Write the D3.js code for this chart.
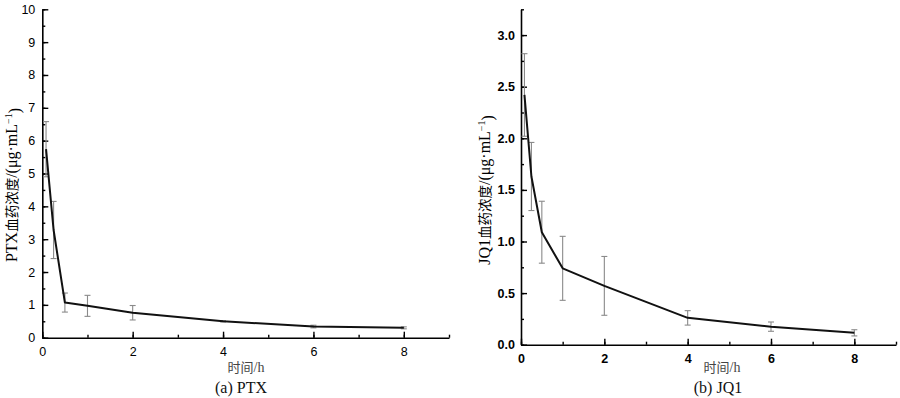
<!DOCTYPE html>
<html>
<head>
<meta charset="utf-8">
<script src="https://cdn.jsdelivr.net/npm/d3@7"></script>
<style>
body { margin: 0; background: #fff; }
svg { display: block; }
</style>
</head>
<body>
<div id="box"></div>
<script>
// sampling times (h)
var times = [0.083, 0.25, 0.5, 1, 2, 4, 6, 8];
// PTX plasma concentration, mean and SD
var ptxMean = [5.74, 3.28, 1.07, 0.97, 0.76, 0.50, 0.34, 0.30];
var ptxSd = [0.84, 0.87, 0.29, 0.32, 0.22, 0.02, 0.04, 0.03];
// JQ1 plasma concentration, mean and SD
var jq1Mean = [2.42, 1.63, 1.09, 0.74, 0.57, 0.26, 0.175, 0.115];
var jq1Sd = [0.40, 0.33, 0.30, 0.31, 0.285, 0.07, 0.045, 0.03];

var xTicks = [0, 2, 4, 6, 8];
var ptxTicks = [0, 1, 2, 3, 4, 5, 6, 7, 8, 9, 10];
var jq1Ticks = [0, 0.5, 1.0, 1.5, 2.0, 2.5, 3.0];

var svg = d3.select("#box").append("svg")
    .attr("width", 900)
    .attr("height", 398);

drawPanel({
    left: 42.3, right: 449, bottom: 337.7, top: 9.3,
    yMax: 10, yTicks: ptxTicks, yMinor: 0.5, fmt: d3.format("d"),
    mean: ptxMean, sd: ptxSd, bold: false,
    title: "PTX", titleX: 11, titleY: 185,
    xLabelX: 246, caption: "(a) PTX", captionX: 241
});

drawPanel({
    left: 521, right: 896, bottom: 344.7, top: 9.3,
    yMax: 3.25, yTicks: jq1Ticks, yMinor: 0.25, fmt: d3.format(".1f"),
    mean: jq1Mean, sd: jq1Sd, bold: true,
    title: "JQ1", titleX: 484, titleY: 190,
    xLabelX: 722, caption: "(b) JQ1", captionX: 718
});

function drawPanel(c){
    var x = d3.scaleLinear().domain([0, 9]).range([c.left, c.right]);
    var y = d3.scaleLinear().domain([0, c.yMax]).range([c.bottom, c.top]);
    var g = svg.append("g");
    var weight = c.bold ? "bold" : "normal";

    // minor ticks
    var yMinorTicks = d3.range(0, c.yMax + 1e-9, c.yMinor);
    var xMinorTicks = d3.range(0, 10, 1);
    g.append("g")
        .attr("transform", "translate(" + c.left + ",0)")
        .call(d3.axisRight(y).tickValues(yMinorTicks).tickSize(3).tickFormat(""))
        .call(function(a){ a.select(".domain").remove(); });
    g.append("g")
        .attr("transform", "translate(0," + c.bottom + ")")
        .call(d3.axisTop(x).tickValues(xMinorTicks).tickSize(3).tickFormat(""))
        .call(function(a){ a.select(".domain").remove(); });

    // y axis, ticks inward
    var yAxis = g.append("g")
        .attr("transform", "translate(" + c.left + ",0)")
        .call(d3.axisRight(y).tickValues(c.yTicks).tickSize(6).tickFormat(c.fmt).tickSizeOuter(0));
    yAxis.selectAll("text")
        .attr("x", c.bold ? -6 : -7)
        .attr("text-anchor", "end");

    // x axis, ticks inward
    var xAxis = g.append("g")
        .attr("transform", "translate(0," + c.bottom + ")")
        .call(d3.axisTop(x).tickValues(xTicks).tickSize(6).tickFormat(d3.format("d")).tickSizeOuter(0));
    xAxis.selectAll("text")
        .attr("y", 9.5)
        .attr("dy", "0.71em");

    g.selectAll(".domain").attr("stroke", "#000").attr("stroke-width", 1.6);
    g.selectAll(".tick line").attr("stroke", "#000").attr("stroke-width", 1.4);
    g.selectAll(".tick text")
        .attr("fill", "#000")
        .style("font-family", "'Liberation Sans', Arial, sans-serif")
        .style("font-size", "12.5px")
        .style("font-weight", weight);

    // error bars
    var pts = times.map(function(t, i){ return {t: t, m: c.mean[i], s: c.sd[i]}; });
    var eb = g.append("g").attr("stroke", "#8a8a8a").attr("stroke-width", 1.1);
    pts.forEach(function(p){
        eb.append("line")
            .attr("x1", x(p.t)).attr("x2", x(p.t))
            .attr("y1", y(p.m - p.s)).attr("y2", y(p.m + p.s));
        [p.m - p.s, p.m + p.s].forEach(function(v){
            eb.append("line")
                .attr("x1", x(p.t) - 3).attr("x2", x(p.t) + 3)
                .attr("y1", y(v)).attr("y2", y(v));
        });
    });

    // mean curve
    var line = d3.line()
        .x(function(d){ return x(d.t); })
        .y(function(d){ return y(d.m); });
    g.append("path")
        .datum(pts)
        .attr("d", line)
        .attr("fill", "none")
        .attr("stroke", "#111")
        .attr("stroke-width", 2)
        .attr("stroke-linejoin", "round");

    // y title
    var yt = g.append("text")
        .attr("transform", "translate(" + c.titleX + "," + c.titleY + ") rotate(-90)")
        .attr("text-anchor", "middle")
        .attr("dy", "0.35em")
        .attr("fill", "#000")
        .style("font-family", "'Liberation Serif', 'Noto Sans CJK SC', serif")
        .style("font-size", "16px");
    yt.append("tspan").text(c.title);
    yt.append("tspan").style("font-family", "'Noto Sans CJK SC', sans-serif").style("font-size", "13.5px").text("血药浓度");
    yt.append("tspan").text("/(μg·mL");
    yt.append("tspan").attr("dy", "-0.5em").style("font-size", "10px").text("−1");
    yt.append("tspan").attr("dy", "0.5em").text(")");

    // x title
    var xt = g.append("text")
        .attr("x", c.xLabelX)
        .attr("y", 372)
        .attr("text-anchor", "middle")
        .attr("fill", "#444")
        .style("font-size", "13px");
    xt.append("tspan").style("font-family", "'Noto Sans CJK SC', sans-serif").text("时间");
    xt.append("tspan").style("font-family", "'Liberation Serif', serif").style("font-size", "14px").text("/h");

    // caption
    g.append("text")
        .attr("x", c.captionX)
        .attr("y", 393)
        .attr("text-anchor", "middle")
        .attr("fill", "#111")
        .style("font-family", "'Liberation Serif', serif")
        .style("font-size", "16px")
        .text(c.caption);
}
</script>
</body>
</html>
